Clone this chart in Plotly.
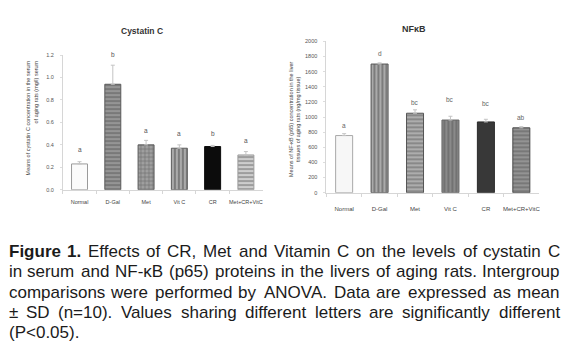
import plotly.graph_objects as go

# ---------------- data ----------------
groups = ["Normal", "D-Gal", "Met", "Vit C", "CR", "Met+CR+VitC"]

cystatin_mean = [0.23, 0.94, 0.40, 0.37, 0.385, 0.31]
cystatin_sd = [0.02, 0.17, 0.04, 0.03, 0.01, 0.03]
cystatin_letters = ["a", "b", "a", "a", "b", "a"]
cystatin_ticks = [0.0, 0.2, 0.4, 0.6, 0.8, 1.0, 1.2]

nfkb_mean = [755, 1700, 1050, 960, 935, 857]
nfkb_sd = [25, 15, 45, 50, 35, 15]
nfkb_letters = ["a", "d", "bc", "bc", "bc", "ab"]
nfkb_ticks = [0, 200, 400, 600, 800, 1000, 1200, 1400, 1600, 1800, 2000]

caption_lines = [
    [("Figure", True), ("1.", True), ("Effects", False), ("of", False), ("CR,", False), ("Met", False),
     ("and", False), ("Vitamin", False), ("C", False), ("on", False), ("the", False), ("levels", False),
     ("of", False), ("cystatin", False), ("C", False)],
    "in serum and NF-κB (p65) proteins in the livers of aging rats. Intergroup",
    "comparisons were performed by ANOVA. Data are expressed as mean",
    "± SD (n=10). Values sharing different letters are significantly different",
    "(P<0.05).",
]

W, H = 570, 350

# ---------------- styles ----------------
left_styles = [
    dict(color="#fbfbfb", line="#9a9a9a", shape="", fg="#fbfbfb"),
    dict(color="#959595", line="#5a5a5a", shape="-", fg="#727272"),
    dict(color="#a0a0a0", line="#5a5a5a", shape="+", fg="#606060"),
    dict(color="#7c7c7c", line="#5e5e5e", shape="|", fg="#6a6a6a"),
    dict(color="#0c0c0c", line="#0c0c0c", shape="", fg="#0c0c0c"),
    dict(color="#cdcdcd", line="#9c9c9c", shape="-", fg="#aaaaaa"),
]
right_styles = [
    dict(color="#f7f7f7", line="#a8a8a8", shape="", fg="#f7f7f7"),
    dict(color="#7c7c7c", line="#595959", shape="|", fg="#6a6a6a"),
    dict(color="#adadad", line="#555555", shape="-", fg="#8e8e8e"),
    dict(color="#8a8a8a", line="#666666", shape="|", fg="#727272"),
    dict(color="#383838", line="#2a2a2a", shape="", fg="#383838"),
    dict(color="#939393", line="#4a4a4a", shape="-", fg="#7a7a7a"),
]


def make_bar(xs, ys, sd, styles, xa, ya):
    return go.Bar(
        x=xs, y=ys, xaxis=xa, yaxis=ya, showlegend=False,
        marker=dict(
            color=[s["color"] for s in styles],
            line=dict(color=[s["line"] for s in styles], width=1),
            pattern=dict(shape=[s["shape"] for s in styles],
                         fgcolor=[s["fg"] for s in styles],
                         bgcolor=[s["color"] for s in styles],
                         size=4, solidity=0.35),
        ),
        error_y=dict(type="data", array=sd, arrayminus=[0] * len(sd), symmetric=False,
                     color="#c4c4c4", thickness=1, width=2),
    )


fig = go.Figure()
fig.add_trace(make_bar(groups, cystatin_mean, cystatin_sd, left_styles, "x", "y"))
fig.add_trace(make_bar(groups, nfkb_mean, nfkb_sd, right_styles, "x2", "y2"))

axis_common = dict(showgrid=False, zeroline=False, showline=True, linecolor="#d6d6d6", linewidth=1)

fig.update_layout(
    width=W, height=H, margin=dict(l=0, r=0, t=0, b=0),
    paper_bgcolor="white", plot_bgcolor="white",
    bargap=0.52,
    font=dict(family="Liberation Sans, Arial, sans-serif", color="#333"),
    xaxis=dict(domain=[63 / W, 263 / W], anchor="y", range=[-0.5, 5.5], **axis_common,
               ticks="outside", ticklen=3, tickcolor="#d6d6d6", tickson="boundaries",
               tickangle=0, tickfont=dict(size=5.5, color="#444"), ticklabelstandoff=7),
    yaxis=dict(domain=[1 - 190 / H, 1 - 53 / H], anchor="x", range=[0, 1.2], **axis_common,
               tickvals=cystatin_ticks, ticktext=[f"{v:.1f}" for v in cystatin_ticks],
               ticks="outside", ticklen=2, tickcolor="#dddddd",
               tickfont=dict(size=5.5, color="#555"), ticklabelstandoff=5),
    xaxis2=dict(domain=[327 / W, 540 / W], anchor="y2", range=[-0.5, 5.5], **axis_common,
                ticks="outside", ticklen=3, tickcolor="#d6d6d6", tickson="boundaries",
                tickangle=0, tickfont=dict(size=6, color="#444"), ticklabelstandoff=10),
    yaxis2=dict(domain=[1 - 193 / H, 1 - 39 / H], anchor="x2", range=[0, 2000], **axis_common,
                tickvals=nfkb_ticks, ticktext=[str(v) for v in nfkb_ticks],
                ticks="outside", ticklen=2, tickcolor="#dddddd",
                tickfont=dict(size=5.5, color="#555"), ticklabelstandoff=5),
)

ann = []
# significance letters
left_shift = [12, 11, 10, 11, 12, 11]
for g, m, s, t, sh in zip(groups, cystatin_mean, cystatin_sd, cystatin_letters, left_shift):
    ann.append(dict(x=g, y=m + s, xref="x", yref="y", text=t, showarrow=False,
                    xanchor="center", yanchor="middle",
                    yshift=sh, font=dict(size=6.5, color="#555")))
right_shift = [8, 9, 7, 17, 16, 9]
for g, m, s, t, sh in zip(groups, nfkb_mean, nfkb_sd, nfkb_letters, right_shift):
    ann.append(dict(x=g, y=m + s, xref="x2", yref="y2", text=t, showarrow=False,
                    xanchor="center", yanchor="middle",
                    yshift=sh, font=dict(size=6.5, color="#666")))

# chart titles
ann.append(dict(x=142 / W, y=1 - 28 / H, xref="paper", yref="paper", text="<b>Cystatin C</b>",
                xanchor="center", yanchor="middle",
                showarrow=False, font=dict(size=8.5, color="#333")))
ann.append(dict(x=415 / W, y=1 - 26 / H, xref="paper", yref="paper", text="<b>NFκB</b>",
                xanchor="center", yanchor="middle",
                showarrow=False, font=dict(size=9, color="#333")))

# y-axis titles
ann.append(dict(x=32.5 / W, y=1 - 117 / H, xref="paper", yref="paper", textangle=-90,
                xanchor="center", yanchor="middle",
                text="Means of cystatin C concentration in the serum<br>of aging rats (mg/l) serum",
                align="right", showarrow=False, font=dict(size=5.5, color="#444")))
ann.append(dict(x=295.5 / W, y=1 - 118 / H, xref="paper", yref="paper", textangle=-90,
                xanchor="center", yanchor="middle",
                text="Means of NF-κB (p65) concentration in the liver<br>tissues of aging rats (ng/mg tissue)",
                align="center", showarrow=False, font=dict(size=5.5, color="#444")))

# ---------------- justified caption ----------------
REG = {' ': 278, 'a': 556, 'b': 556, 'c': 500, 'd': 556, 'e': 556, 'f': 278, 'g': 556, 'h': 556,
       'i': 222, 'j': 222, 'k': 500, 'l': 222, 'm': 833, 'n': 556, 'o': 556, 'p': 556, 'q': 556,
       'r': 333, 's': 500, 't': 278, 'u': 556, 'v': 500, 'w': 722, 'x': 500, 'y': 500, 'z': 500,
       'A': 667, 'B': 667, 'C': 722, 'D': 722, 'E': 667, 'F': 611, 'I': 278, 'M': 833, 'N': 722,
       'O': 778, 'P': 667, 'R': 722, 'S': 667, 'V': 667, '0': 556, '1': 556, '5': 556, '6': 556,
       '.': 278, ',': 278, '(': 333, ')': 333, '-': 333, '=': 584, '<': 584, '±': 584, 'κ': 520}
BOLD = {'F': 611, 'i': 278, 'g': 611, 'u': 611, 'r': 389, 'e': 556, '1': 556, '.': 278, ' ': 278}

FS = 17
X0, X1 = 8.0, 561.0
line_centers = [252.5, 273.3, 294.1, 314.9, 335.7]


def wwidth(word, bold):
    tab = BOLD if bold else REG
    return sum(tab.get(c, 556) for c in word) / 1000 * FS


for i, line in enumerate(caption_lines):
    words = line if isinstance(line, list) else [(w, False) for w in line.split(" ")]
    widths = [wwidth(w, b) for w, b in words]
    last = i == len(caption_lines) - 1
    if last or len(words) == 1:
        gap = REG[' '] / 1000 * FS
    else:
        gap = (X1 - X0 - sum(widths)) / (len(words) - 1)
    x = X0
    for k, ((w, b), ww) in enumerate(zip(words, widths)):
        if k == 0:
            px, anchor = x, "left"
        else:
            px, anchor = x + ww / 2, "center"
        ann.append(dict(x=px / W, y=1 - line_centers[i] / H, xref="paper", yref="paper",
                        xanchor=anchor, yanchor="middle", borderpad=0, showarrow=False,
                        text=f"<b>{w}</b>" if b else w,
                        font=dict(size=FS, color="#1b1b1b",
                                  family="Liberation Sans, Arial, sans-serif")))
        x += ww + gap

fig.update_layout(annotations=ann)
fig.write_html("out.html", config={"displayModeBar": False},
               post_script="document.body.style.margin='0';")
